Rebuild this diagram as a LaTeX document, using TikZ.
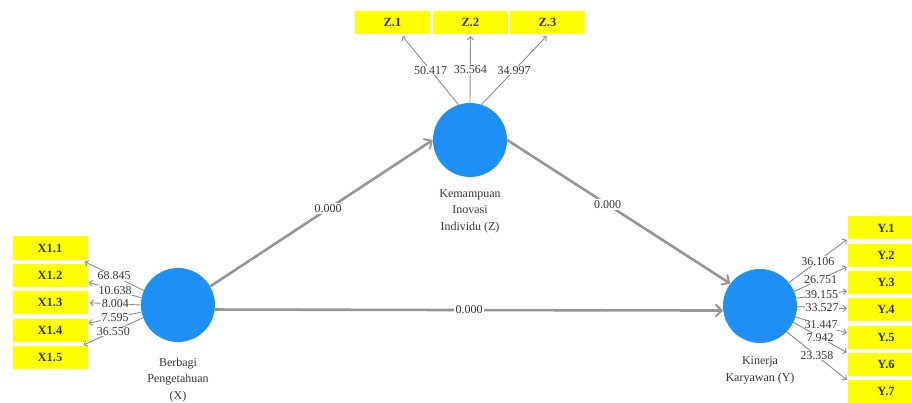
\documentclass[tikz,border=0pt]{standalone}
\usepackage{fontspec}
\setmainfont{Liberation Serif}
\usetikzlibrary{arrows.meta,calc}
\definecolor{boxyellow}{RGB}{255,255,0}
\definecolor{lvblue}{RGB}{30,144,245}
\definecolor{pathgray}{RGB}{150,150,150}
\definecolor{loadgray}{RGB}{140,140,140}
\definecolor{txtgray}{RGB}{55,55,55}
\begin{document}
\begin{tikzpicture}[x=1pt,y=-1pt,
  ind/.style={fill=boxyellow, minimum width=75pt, minimum height=23pt, inner sep=0pt,
    font=\fontsize{12.5}{12.5}\selectfont\bfseries, text=black!80},
  lv/.style={circle, fill=lvblue, minimum size=74pt, inner sep=0pt},
  structarrow/.style={draw=pathgray, line width=2.6pt,
    -{Straight Barb[length=6pt,width=12pt,line width=2pt]}},
  loadarrow/.style={draw=loadgray, line width=0.9pt,
    -{Straight Barb[length=3pt,width=6pt,line width=0.9pt]}},
  coef/.style={fill=white, inner sep=0.6pt, text=txtgray, font=\fontsize{12}{12}\selectfont},
  pcoef/.style={fill=white, inner sep=1.5pt, text=txtgray, font=\fontsize{12}{12}\selectfont},
  lvcaption/.style={align=center, text=txtgray, inner sep=0pt, anchor=north,
    font=\fontsize{12}{16.5}\selectfont}
]
\useasboundingbox (0,0) rectangle (912,403);
\clip (0,0) rectangle (912,403);

% indicator boxes
\node[ind] (x11) at (50,248.0) {X1.1};
\node[ind] (x12) at (50,275.4) {X1.2};
\node[ind] (x13) at (50,302.8) {X1.3};
\node[ind] (x14) at (50,330.2) {X1.4};
\node[ind] (x15) at (50,357.6) {X1.5};

\node[ind] (z1) at (392.5,22.5) {Z.1};
\node[ind] (z2) at (470.5,22.5) {Z.2};
\node[ind] (z3) at (547.5,22.5) {Z.3};

\node[ind, minimum width=76pt] (y1) at (886,228.0) {Y.1};
\node[ind, minimum width=76pt] (y2) at (886,255.25) {Y.2};
\node[ind, minimum width=76pt] (y3) at (886,282.5) {Y.3};
\node[ind, minimum width=76pt] (y4) at (886,309.75) {Y.4};
\node[ind, minimum width=76pt] (y5) at (886,337.0) {Y.5};
\node[ind, minimum width=76pt] (y6) at (886,364.25) {Y.6};
\node[ind, minimum width=76pt] (y7) at (886,391.5) {Y.7};

% latent variables
\node[lv] (X) at (178,305) {};
\node[lv] (Z) at (470,140) {};
\node[lv] (Y) at (760,306) {};

\node[lvcaption] (capX) at (178,357.5) {Berbagi\\Pengetahuan\\(X)};
\node[lvcaption] (capZ) at (470,189) {Kemampuan\\Inovasi\\Individu (Z)};
\node[lvcaption] (capY) at (760,356.5) {Kinerja\\Karyawan (Y)};

% structural paths
\draw[structarrow] (X.30) -- node[pcoef, pos=0.53] {0.000} (Z.180);
\draw[structarrow] (Z.0) -- node[pcoef, pos=0.45] {0.000} (Y.143);
\draw[structarrow] (X.-7) -- node[pcoef, pos=0.5] {0.000} (Y.187);

% X loadings
\draw[loadarrow] (X.157) -- node[coef] {68.845} ($(x11.south east)+(-3,2)$);
\draw[loadarrow] (X.169) -- node[coef] {10.638} ($(x12.east)+(1,7)$);
\draw[loadarrow] (X.180) -- node[coef] {8.004} ($(x13.east)+(2,0)$);
\draw[loadarrow] (X.191) -- node[coef] {7.595} ($(x14.east)+(1,-7)$);
\draw[loadarrow] (X.200) -- node[coef] {36.550} ($(x15.north east)+(-4,-1)$);

% Z loadings
\draw[loadarrow] (Z.108) -- node[coef] {50.417} ($(z1.south)+(10,2)$);
\draw[loadarrow] (Z.90) -- node[coef] {35.564} ($(z2.south)+(0,2)$);
\draw[loadarrow] (Z.72) -- node[coef] {34.997} ($(z3.south)+(-1,2)$);

% Y loadings
\draw[loadarrow] (Y.39) -- node[coef] {36.106} ($(y1.south west)+(-1,0)$);
\draw[loadarrow] (Y.23) -- node[coef] {26.751} ($(y2.south west)+(-1,0)$);
\draw[loadarrow] (Y.12) -- node[coef] {39.155} ($(y3.south west)+(-1,-3)$);
\draw[loadarrow] (Y.359) -- node[coef] {33.527} ($(y4.west)+(-1,-1)$);
\draw[loadarrow] (Y.343) -- node[coef] {31.447} ($(y5.west)+(-1,-4)$);
\draw[loadarrow] (Y.334) -- node[coef] {7.942} ($(y6.north west)+(-1,0)$);
\draw[loadarrow] (Y.316) -- node[coef] {23.358} ($(y7.north west)+(-1,0)$);
\end{tikzpicture}
\end{document}
